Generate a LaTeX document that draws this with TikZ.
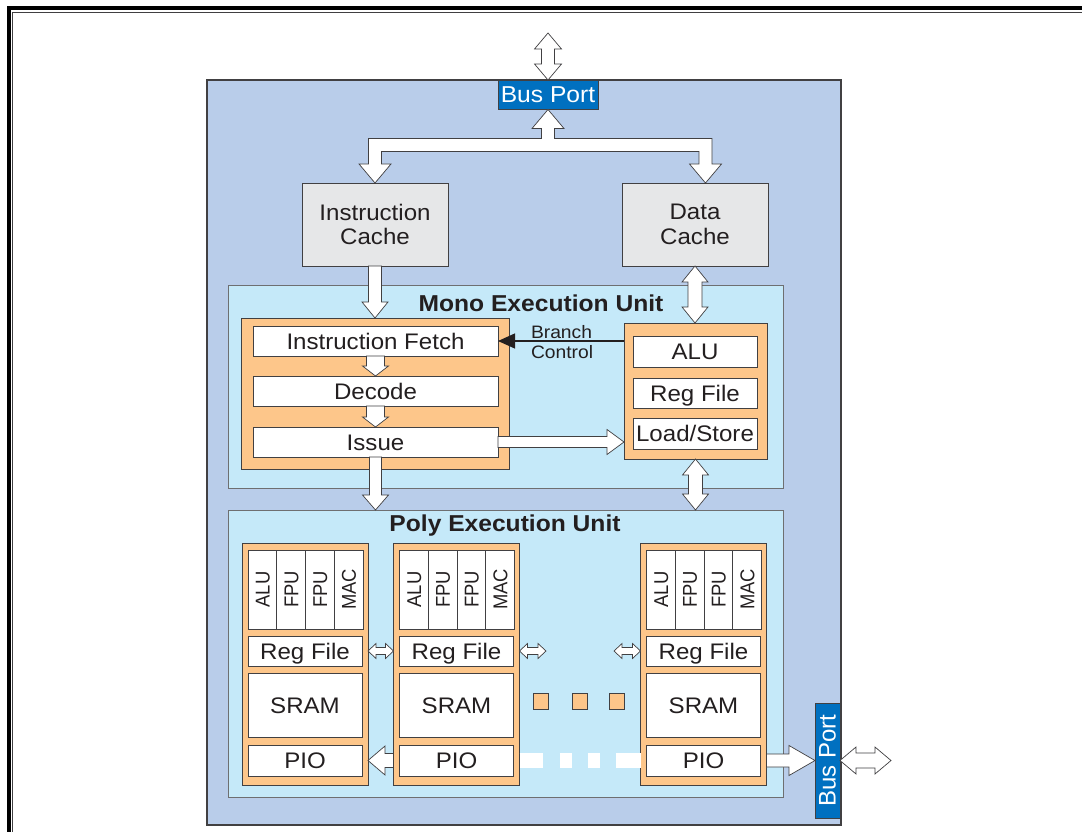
\documentclass[tikz,border=0pt]{standalone}
\usepackage{fontspec}
\setmainfont{Liberation Sans}
\newfontfamily\hfont{Liberation Sans}[FakeStretch=1.07]
\newfontfamily\rfont{Liberation Sans}[FakeStretch=0.92]
\usetikzlibrary{calc,arrows.meta}

\definecolor{outerfill}{RGB}{185,205,234}
\definecolor{unitfill}{RGB}{197,233,249}
\definecolor{blockfill}{RGB}{253,198,138}
\definecolor{cachefill}{RGB}{230,231,232}
\definecolor{portfill}{RGB}{0,112,192}
\definecolor{ink}{RGB}{35,31,32}
\definecolor{edge}{RGB}{65,64,66}
\definecolor{unitedge}{RGB}{110,111,113}

% wide outlined arrow: [style]{from}{tip}{half shaft}{half head}{head length}
\newcommand\fatarrow[6][]{%
  \draw[fat,#1] let \p1=(#2), \p2=(#3),
    \n1={veclen(\x2-\x1,\y2-\y1)},
    \n2={(\x2-\x1)/\n1}, \n3={(\y2-\y1)/\n1} in
    ({\x1+#4pt*(\n3)},{\y1-#4pt*(\n2)})
 -- ({\x2-#6pt*(\n2)+#4pt*(\n3)},{\y2-#6pt*(\n3)-#4pt*(\n2)})
 -- ({\x2-#6pt*(\n2)+#5pt*(\n3)},{\y2-#6pt*(\n3)-#5pt*(\n2)})
 -- (\p2)
 -- ({\x2-#6pt*(\n2)-#5pt*(\n3)},{\y2-#6pt*(\n3)+#5pt*(\n2)})
 -- ({\x2-#6pt*(\n2)-#4pt*(\n3)},{\y2-#6pt*(\n3)+#4pt*(\n2)})
 -- ({\x1-#4pt*(\n3)},{\y1+#4pt*(\n2)}) -- cycle;}

% wide outlined arrow with a head at both ends
\newcommand\fatboth[6][]{%
  \draw[fat,#1] let \p1=(#2), \p2=(#3),
    \n1={veclen(\x2-\x1,\y2-\y1)},
    \n2={(\x2-\x1)/\n1}, \n3={(\y2-\y1)/\n1} in
    (\p1)
 -- ({\x1+#6pt*(\n2)+#5pt*(\n3)},{\y1+#6pt*(\n3)-#5pt*(\n2)})
 -- ({\x1+#6pt*(\n2)+#4pt*(\n3)},{\y1+#6pt*(\n3)-#4pt*(\n2)})
 -- ({\x2-#6pt*(\n2)+#4pt*(\n3)},{\y2-#6pt*(\n3)-#4pt*(\n2)})
 -- ({\x2-#6pt*(\n2)+#5pt*(\n3)},{\y2-#6pt*(\n3)-#5pt*(\n2)})
 -- (\p2)
 -- ({\x2-#6pt*(\n2)-#5pt*(\n3)},{\y2-#6pt*(\n3)+#5pt*(\n2)})
 -- ({\x2-#6pt*(\n2)-#4pt*(\n3)},{\y2-#6pt*(\n3)+#4pt*(\n2)})
 -- ({\x1+#6pt*(\n2)-#4pt*(\n3)},{\y1+#6pt*(\n3)+#4pt*(\n2)})
 -- ({\x1+#6pt*(\n2)-#5pt*(\n3)},{\y1+#6pt*(\n3)+#5pt*(\n2)})
 -- cycle;}

\begin{document}
\begin{tikzpicture}[x=1pt,y=-1pt,
  every node/.style={inner sep=0pt, outer sep=0pt},
  fat/.style={draw=edge, fill=white, line width=0.7pt, line join=miter},
  outerbox/.style={draw=edge, line width=1.4pt, fill=outerfill},
  unit/.style={draw=unitedge, line width=0.9pt, fill=unitfill},
  block/.style={draw=edge, line width=0.9pt, fill=blockfill},
  cell/.style={draw=edge, line width=0.8pt, fill=white, text=ink,
    font=\hfont\fontsize{22.5}{24}\selectfont, text height=16pt, text depth=0pt},
  fu/.style={cell, rotate=90, font=\rfont\fontsize{20}{22}\selectfont,
    text height=14.3pt, minimum width=79pt, minimum height=28.75pt},
  cache/.style={draw=edge, line width=0.9pt, fill=cachefill, text=ink, align=center,
    font=\hfont\fontsize{22.5}{24.5}\selectfont, minimum width=146pt, minimum height=83pt},
  port/.style={draw=edge, line width=0.8pt, fill=portfill, text=white},
  title/.style={text=ink, font=\hfont\bfseries\fontsize{23}{25}\selectfont},
  dot/.style={draw=edge, line width=0.8pt, fill=blockfill, minimum width=15pt, minimum height=16pt},
  ctl/.style={draw=ink, line width=1.2pt, -{Triangle[length=17pt,width=15pt]}},
  dashbar/.style={draw=white, line width=15pt,
    dash pattern=on 23pt off 17pt on 12pt off 16pt on 12pt off 16pt on 30pt}]

\useasboundingbox (0,0) rectangle (1082,832);
\fill[white] (0,0) rectangle (1082,832);

% page frame
\draw[line width=4pt, line join=miter] (8.7,840) -- (8.7,8) -- (1090,8);
\draw[line width=0.9pt, draw=edge] (12.6,840) -- (12.6,12.3) -- (1090,12.3);

% processor outline
\node[outerbox, minimum width=634pt, minimum height=745pt] (chip) at (524,452.5) {};
\node[port, minimum width=100pt, minimum height=29.5pt,
  font=\hfont\fontsize{23}{25}\selectfont] (bp) at (548,94.75) {Bus Port};

% caches
\node[cache] (ic) at (375,224.5) {Instruction\\Cache};
\node[cache] (dc) at (695,224.5) {Data\\Cache};

% execution units
\node[unit, minimum width=555pt, minimum height=203pt] (mono) at (505.5,386.5) {};
\node[title] (monoT) at (541,303) {Mono Execution Unit};
\node[unit, minimum width=555pt, minimum height=287pt] (poly) at (505.5,653.5) {};
\node[title] (polyT) at (505,525.5) {Poly Execution Unit};

% mono pipeline
\node[block, minimum width=268pt, minimum height=151pt] (lb) at (375,393.5) {};
\node[cell, minimum width=245pt, minimum height=30pt] (if) at (375.5,341) {Instruction Fetch};
\node[cell, minimum width=245pt, minimum height=30pt] (dec) at (375.5,391) {Decode};
\node[cell, minimum width=245pt, minimum height=30pt] (iss) at (375.5,442) {Issue};

\node[block, minimum width=143pt, minimum height=136pt] (rb) at (695.5,391) {};
\node[cell, minimum width=124pt, minimum height=31pt] (alu) at (695,351.5) {ALU};
\node[cell, minimum width=124pt, minimum height=30pt] (mrf) at (695,393) {Reg File};
\node[cell, minimum width=124pt, minimum height=31pt] (ls) at (695,433.5) {Load/Store};

% poly processing elements
\foreach \n/\cx in {1/305, 2/456.5, 3/703.5} {
  \node[block, minimum width=126pt, minimum height=242pt] (c\n) at (\cx,664) {};
  \foreach \u [count=\k] in {ALU,FPU,FPU,MAC}
    \node[fu] (c\n-fu\k) at ({\cx-57+28.75*\k-14.375},589.5) {\u};
  \node[cell, minimum width=114pt, minimum height=30pt] (c\n-rf) at (\cx,651) {Reg File};
  \node[cell, minimum width=114pt, minimum height=64pt] (c\n-sram) at (\cx,705) {SRAM};
  \node[cell, minimum width=114pt, minimum height=31pt] (c\n-pio) at (\cx,760.5) {PIO};
}
\node[dot] (d1) at (540.5,701) {};
\node[dot] (d2) at (579.5,701) {};
\node[dot] (d3) at (616.5,701) {};

\node[port, rotate=90, minimum width=115pt, minimum height=25pt,
  font=\fontsize{24}{26}\selectfont] (bp2) at (827.5,760.5) {Bus Port};

% external bus connections
\coordinate (topbus) at (548,33);
\coordinate (rightbus) at (891,760.5);
\fatboth{topbus}{bp.north}{6.5}{13.5}{16}
\fatboth{bp2.south}{rightbus}{7.5}{13.5}{16}

% internal bus to the caches
\draw[fat] (bp.south) -- ++(16,19) -- ++(-9.5,0) -- ++(0,10)
  -- ($(dc.north)+(17,-44.5)$) -- ++(0,25.5) -- ++(9.5,0)
  -- ($(dc.north)+(10.5,0)$) -- ++(-16,-19) -- ++(9.5,0) -- ++(0,-12.5)
  -- ($(ic.north)+(6.5,-31.5)$) -- ++(0,12.5) -- ++(9.5,0)
  -- (ic.north) -- ++(-16,-19) -- ++(9.5,0) -- ++(0,-25.5)
  -- ($(bp.south)+(-6.5,29)$) -- ++(0,-10) -- ++(-9.5,0) -- cycle;

% instruction path
\fatarrow{ic.south}{ic.south |- lb.north}{6.5}{13}{16}
\fatarrow{if.south}{dec.north}{9}{13}{10}
\fatarrow{dec.south}{iss.north}{9}{13}{10}
\fatarrow{iss.south}{iss.south |- poly.north}{6}{13}{15}
\fatarrow{iss.east}{iss.east -| rb.west}{5.5}{12.5}{17}

% data path
\fatboth{dc.south}{dc.south |- rb.north}{7}{13}{16}
\fatboth{rb.south}{rb.south |- poly.north}{7}{13}{16}

% branch control
\draw[ctl] (if.east -| rb.west) -- (if.east);
\node[anchor=west, align=left, text=ink, font=\hfont\fontsize{18}{20}\selectfont]
  (brc) at (531,342) {Branch\\Control};

% links between processing elements
\coordinate (rfR) at (546,651);
\coordinate (rfL) at (614,651);
\fatboth{c1.east |- c1-rf.east}{c2.west |- c2-rf.west}{3.5}{7.5}{8}
\fatboth{c2.east |- c2-rf.east}{rfR}{3.5}{7.5}{8}
\fatboth{rfL}{c3.west |- c3-rf.west}{3.5}{7.5}{8}

\fatarrow{c2.west |- c2-pio.west}{c1.east |- c1-pio.east}{7}{14.5}{17}
\draw[dashbar] (c2.east |- c2-pio.east) -- (c3.west |- c3-pio.west);
\fatarrow{c3.east |- c3-pio.east}{bp2.north}{6.5}{15}{26}
\end{tikzpicture}
\end{document}
